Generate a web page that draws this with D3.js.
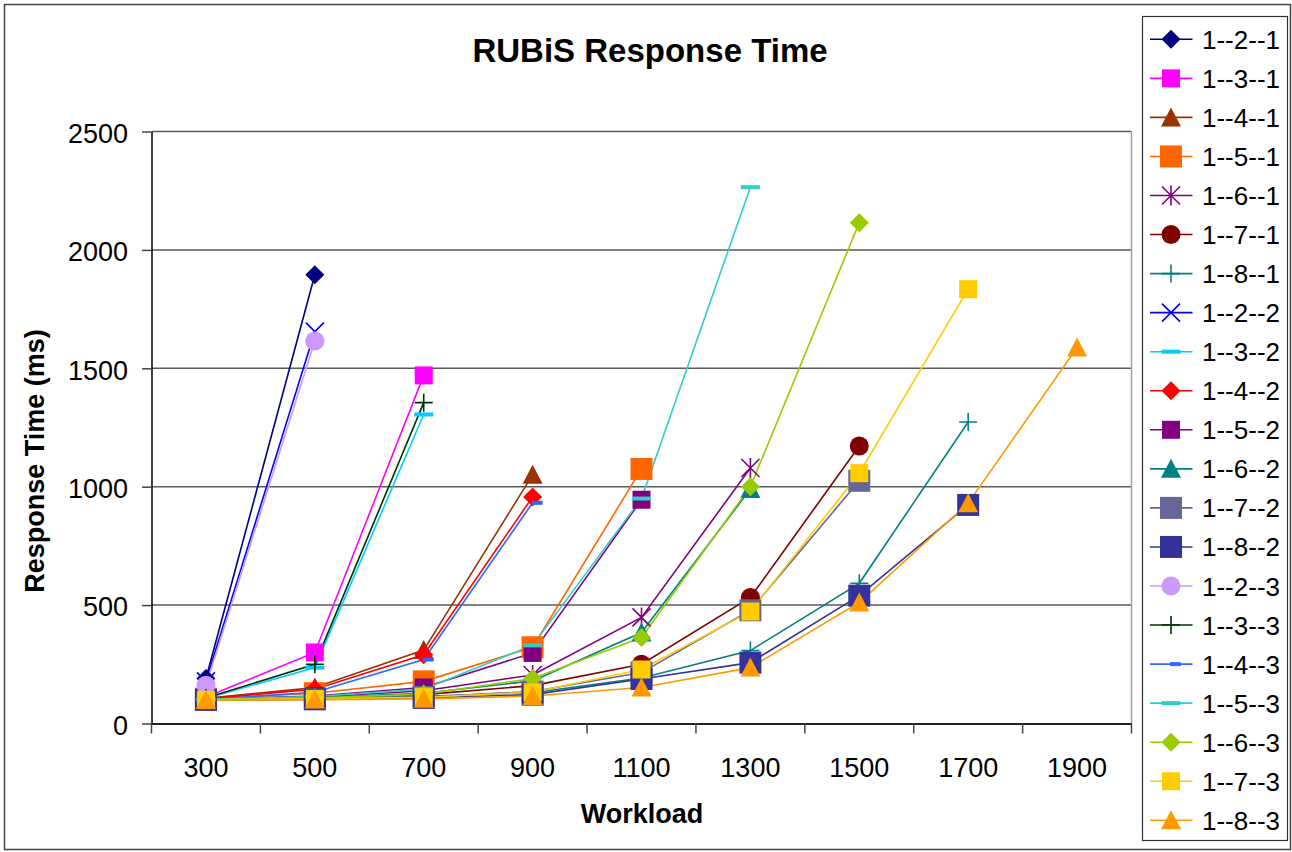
<!DOCTYPE html>
<html>
<head>
<meta charset="utf-8">
<script src="https://cdn.jsdelivr.net/npm/d3@7"></script>
<style>
  body { margin: 0; background: #fff; }
  svg { font-family: "Liberation Sans", Arial, sans-serif; }
</style>
</head>
<body>
<div class="chart"></div>
<script>
// workloads on the x axis
const workloads = [300, 500, 700, 900, 1100, 1300, 1500, 1700, 1900];
const yTicks = [0, 500, 1000, 1500, 2000, 2500];

const seriesNames = ['1--2--1', '1--3--1', '1--4--1', '1--5--1', '1--6--1', '1--7--1', '1--8--1',
    '1--2--2', '1--3--2', '1--4--2', '1--5--2', '1--6--2', '1--7--2', '1--8--2',
    '1--2--3', '1--3--3', '1--4--3', '1--5--3', '1--6--3', '1--7--3', '1--8--3'];

// response time (ms), one value per workload starting at 300
const seriesValues = [
    [190, 1895],
    [112, 300, 1470],
    [106, 152, 310, 1050],
    [105, 128, 178, 322, 1075],
    [104, 112, 138, 205, 448, 1079],
    [103, 108, 122, 160, 250, 532, 1172],
    [102, 106, 115, 130, 192, 308, 592, 1273],
    [178, 1655],
    [106, 236, 1305],
    [104, 145, 290, 957],
    [103, 116, 152, 298, 945],
    [102, 110, 128, 180, 384, 990],
    [101, 104, 112, 135, 215, 478, 1025],
    [100, 102, 108, 122, 188, 257, 540, 923],
    [162, 1615],
    [108, 250, 1355],
    [101, 132, 270, 932],
    [102, 114, 145, 330, 950, 2265],
    [101, 107, 124, 190, 363, 1000, 2115],
    [100, 104, 111, 132, 228, 473, 1057, 1834],
    [99, 101, 104, 116, 152, 236, 511, 930, 1588]
];

const seriesColors = ['#000080', '#ff00ff', '#993300', '#ff6600', '#800080', '#800000', '#008080',
    '#0000ff', '#00ccff', '#ff0000', '#800080', '#008080', '#666699', '#333399',
    '#cc99ff', '#003300', '#3366ff', '#33cccc', '#99cc00', '#ffcc00', '#ff9900'];

const seriesMarkers = ['diamond', 'square', 'triangle', 'bigsquare', 'star', 'circle', 'plus',
    'x', 'dash', 'diamond', 'square', 'triangle', 'bigsquare', 'bigsquare',
    'circle', 'plus', 'shortdash', 'dash', 'diamond', 'square', 'triangle'];

const W = 1292, H = 852;
const plot = {left: 151.5, right: 1131.5, top: 131.5, bottom: 723.5};

function markerPath(type) {
    switch (type) {
        case 'diamond':
            return 'M0,-9.5L9.5,0L0,9.5L-9.5,0Z';
        case 'square':
            return 'M-9,-9h18v18h-18Z';
        case 'bigsquare':
            return 'M-11,-11h22v22h-22Z';
        case 'triangle':
            return 'M0,-10L10,9L-10,9Z';
        case 'circle':
            return 'M9.5,0A9.5,9.5 0 1,1 -9.5,0A9.5,9.5 0 1,1 9.5,0Z';
        case 'x':
            return 'M-9,-9L9,9M-9,9L9,-9';
        case 'star':
            return 'M-9,-9L9,9M-9,9L9,-9M0,-10V10';
        case 'plus':
            return 'M-9,0H9M0,-9V9';
        case 'dash':
            return 'M-9.5,-2h19v4h-19Z';
        case 'shortdash':
            return 'M-1,-2h11v4h-11Z';
    }
}

function isOpen(type) {
    return type === 'x' || type === 'star' || type === 'plus';
}

const svg = d3.select(".chart").append("svg")
    .attr("width", W)
    .attr("height", H);

svg.append("rect")
    .attr("x", 4.5).attr("y", 4.5)
    .attr("width", 1286).attr("height", 845)
    .attr("fill", "#fff")
    .attr("stroke", "#444")
    .attr("stroke-width", 1.5);

const x = d3.scaleBand()
    .domain(workloads)
    .range([plot.left, plot.right])
    .paddingInner(0)
    .paddingOuter(0);

const y = d3.scaleLinear()
    .domain([0, 2500])
    .range([plot.bottom, plot.top]);

const cx = d => x(d) + x.bandwidth() / 2;

// gridlines
svg.append("g")
    .selectAll("line")
    .data(yTicks.filter(d => d > 0))
    .enter()
    .append("line")
    .attr("x1", plot.left)
    .attr("x2", plot.right)
    .attr("y1", d => y(d))
    .attr("y2", d => y(d))
    .attr("stroke", "#5a5a5a")
    .attr("stroke-width", 1.5);

// right plot border
svg.append("line")
    .attr("x1", plot.right).attr("x2", plot.right)
    .attr("y1", plot.top).attr("y2", plot.bottom)
    .attr("stroke", "#a0a0a0")
    .attr("stroke-width", 1.5);

// y axis
const yAxis = d3.axisLeft(y)
    .tickValues(yTicks)
    .tickFormat(d3.format("d"))
    .tickSize(9.5)
    .tickSizeOuter(0)
    .tickPadding(14);

const yG = svg.append("g")
    .attr("transform", "translate(" + plot.left + ",0)")
    .call(yAxis);
yG.select(".domain").attr("stroke", "#000").attr("stroke-width", 1.5);
yG.selectAll(".tick line").attr("stroke", "#444").attr("stroke-width", 1.5);
yG.selectAll(".tick text")
    .attr("font-size", 27)
    .attr("font-family", '"Liberation Sans", Arial, sans-serif')
    .attr("fill", "#000")
    .attr("dy", "0.4em");

// x axis
const xAxis = d3.axisBottom(x)
    .tickSize(0)
    .tickSizeOuter(0)
    .tickPadding(34);

const xG = svg.append("g")
    .attr("transform", "translate(0," + plot.bottom + ")")
    .call(xAxis);
xG.select(".domain").attr("stroke", "#222").attr("stroke-width", 2);
xG.selectAll(".tick text")
    .attr("font-size", 27)
    .attr("font-family", '"Liberation Sans", Arial, sans-serif')
    .attr("fill", "#000");

// tick marks between categories
xG.selectAll(".band-tick")
    .data(workloads.map(d => x(d)).concat([plot.right]))
    .enter()
    .append("line")
    .attr("class", "band-tick")
    .attr("x1", d => d)
    .attr("x2", d => d)
    .attr("y1", 0)
    .attr("y2", 10)
    .attr("stroke", "#444")
    .attr("stroke-width", 1.5);

// series
const series = seriesNames.map((name, i) => ({
    name: name,
    color: seriesColors[i],
    marker: seriesMarkers[i],
    points: seriesValues[i].map((v, j) => ({w: workloads[j], v: v}))
}));

const line = d3.line()
    .x(d => cx(d.w))
    .y(d => y(d.v));

svg.append("g")
    .selectAll("path")
    .data(series)
    .enter()
    .append("path")
    .attr("d", d => line(d.points))
    .attr("fill", "none")
    .attr("stroke", d => d.color)
    .attr("stroke-width", 1.6);

const markerGroups = svg.append("g")
    .selectAll("g")
    .data(series)
    .enter()
    .append("g");

markerGroups.selectAll("path")
    .data(d => d.points.map(p => ({p: p, s: d})))
    .enter()
    .append("path")
    .attr("transform", d => "translate(" + cx(d.p.w) + "," + y(d.p.v) + ")")
    .attr("d", d => markerPath(d.s.marker))
    .attr("fill", d => isOpen(d.s.marker) ? "none" : d.s.color)
    .attr("stroke", d => isOpen(d.s.marker) ? d.s.color : "none")
    .attr("stroke-width", 1.6);

// title and axis labels
svg.append("text")
    .attr("x", 650)
    .attr("y", 62)
    .attr("text-anchor", "middle")
    .attr("font-size", 33)
    .attr("font-weight", "bold")
    .text("RUBiS Response Time");

svg.append("text")
    .attr("x", 642)
    .attr("y", 823)
    .attr("text-anchor", "middle")
    .attr("font-size", 27)
    .attr("font-weight", "bold")
    .text("Workload");

svg.append("text")
    .attr("transform", "translate(44,461) rotate(-90)")
    .attr("text-anchor", "middle")
    .attr("font-size", 27)
    .attr("font-weight", "bold")
    .text("Response Time (ms)");

// legend
const legend = svg.append("g");

legend.append("rect")
    .attr("x", 1142.5)
    .attr("y", 16.5)
    .attr("width", 145)
    .attr("height", 824)
    .attr("fill", "#fff")
    .attr("stroke", "#333")
    .attr("stroke-width", 1.2);

const items = legend.selectAll(".item")
    .data(series)
    .enter()
    .append("g")
    .attr("class", "item")
    .attr("transform", (d, i) => "translate(1171," + (39.3 + i * 39.05) + ")");

items.append("line")
    .attr("x1", -21)
    .attr("x2", 21.5)
    .attr("stroke", d => d.color)
    .attr("stroke-width", 1.6);

items.append("path")
    .attr("d", d => markerPath(d.marker))
    .attr("fill", d => isOpen(d.marker) ? "none" : d.color)
    .attr("stroke", d => isOpen(d.marker) ? d.color : "none")
    .attr("stroke-width", 1.6);

items.append("text")
    .attr("x", 31)
    .attr("y", 9.5)
    .attr("font-size", 26)
    .text(d => d.name);
</script>
</body>
</html>
